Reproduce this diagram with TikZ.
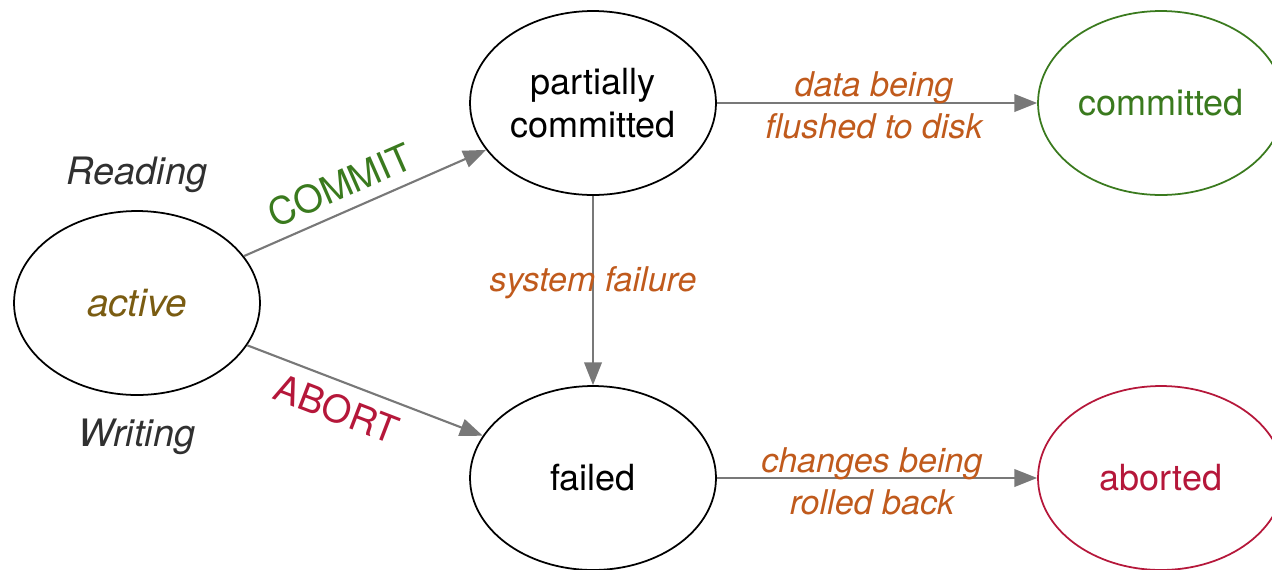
\documentclass[tikz,border=0pt]{standalone}
\usepackage{fontspec}
\setmainfont{TeX Gyre Heros}
\usetikzlibrary{arrows.meta,shapes.geometric}

\definecolor{stategreen}{HTML}{3A7A1E}
\definecolor{statered}{HTML}{B5173A}
\definecolor{noteorange}{HTML}{C05A1C}
\definecolor{activeolive}{HTML}{7A5C12}
\definecolor{arrowgray}{HTML}{787878}
\definecolor{sidegray}{HTML}{303030}

\tikzset{
  statebox/.style={ellipse, draw=black, line width=1pt, inner sep=0pt,
    minimum width=4.92cm, minimum height=3.68cm,
    font=\fontsize{20.5}{24.5}\selectfont, align=center},
  flow/.style={draw=arrowgray, line width=1.2pt,
    -{Triangle[length=13pt,width=10pt]}},
  note/.style={font=\fontsize{19.4}{24}\selectfont\itshape, text=noteorange,
    align=center, inner sep=0pt},
  sidenote/.style={font=\fontsize{21.5}{24}\selectfont\itshape, text=sidegray,
    inner sep=0pt},
  verdict/.style={font=\fontsize{21.5}{24}\selectfont, inner sep=0pt}
}

\begin{document}
\begin{tikzpicture}[x=0.02cm, y=-0.02cm]
\useasboundingbox (0,0) rectangle (1272,569);
\clip (0,0) rectangle (1272,569);

% transaction states
\node[statebox] (active) at (137,303)
  {\fontsize{22}{24}\selectfont\itshape\color{activeolive}active};
\node[statebox] (partial) at (593,103) {partially\\committed};
\node[statebox, draw=stategreen, text=stategreen] (committed) at (1161,103)
  {committed};
\node[statebox] (failed) at (593,478) {failed};
\node[statebox, draw=statered, text=statered] (aborted) at (1161,478)
  {aborted};

% transitions
\draw[flow] (active) -- (partial);
\draw[flow] (active) -- (failed);
\draw[flow] (partial) -- (failed);
\draw[flow] (partial) -- (committed);
\draw[flow] (failed) -- (aborted);

% labels
\node[sidenote] (reading) at (137,175) {Reading};
\node[sidenote] (writing) at (137,437) {Writing};
\node[verdict, text=stategreen, rotate=23.7] (commitlbl) at (340,185) {COMMIT};
\node[verdict, text=statered, rotate=-21] (abortlbl) at (337,409) {ABORT};
\node[note] (sysfail) at (593,283) {system failure};
\node[note] (flush) at (874,105) {data being\\flushed to disk};
\node[note] (rollback) at (872,481) {changes being\\rolled back};
\end{tikzpicture}
\end{document}
